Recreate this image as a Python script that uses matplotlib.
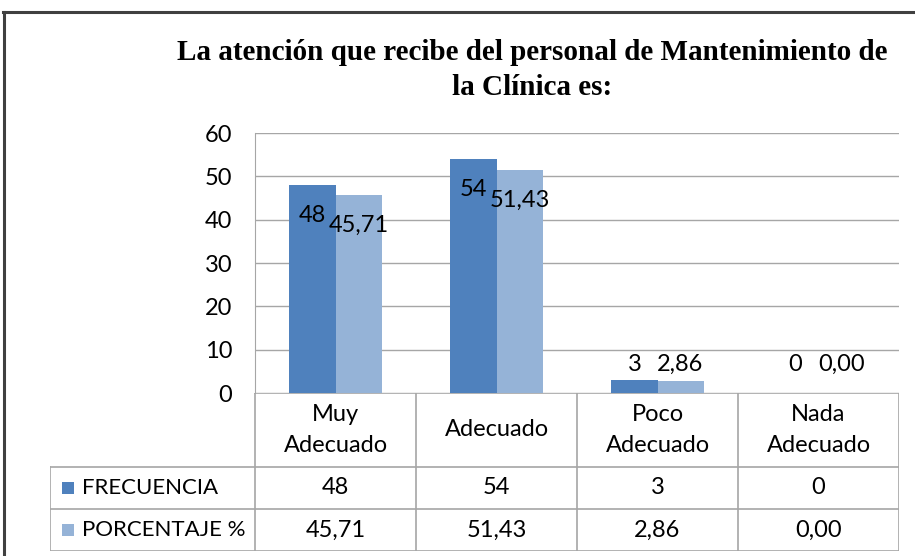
import matplotlib
matplotlib.use("Agg")
import matplotlib.pyplot as plt
from matplotlib.patches import Rectangle
from matplotlib.lines import Line2D
import numpy as np

# survey results
categorias = ["Muy\nAdecuado", "Adecuado", "Poco\nAdecuado", "Nada\nAdecuado"]
frecuencia = [48, 54, 3, 0]
porcentaje = [45.71, 51.43, 2.86, 0.00]
series = ["FRECUENCIA", "PORCENTAJE %"]
colores = ["#4F81BD", "#95B3D7"]
titulo = "La atención que recibe del personal de Mantenimiento de\nla Clínica es:"

W, H = 915, 556
SANS = ["Lato", "DejaVu Sans"]
SERIF = ["Liberation Serif", "DejaVu Serif"]
FS = 17


def fx(px):
    return px / W


def fy(py):
    return 1 - py / H


def fmt(v, dec):
    return f"{v:.{dec}f}".replace(".", ",")


fig = plt.figure(figsize=(W / 100, H / 100), dpi=100)
fig.patch.set_facecolor("white")

# chart frame (only top/left edges fall inside the picture)
fig.add_artist(Line2D([fx(4), fx(4)], [fy(12), fy(H + 10)], color="#404040", lw=2.2))
fig.add_artist(Line2D([fx(3), fx(W + 10)], [fy(12), fy(12)], color="#404040", lw=2.2))

fig.text(fx(532), fy(70), titulo, ha="center", va="center", fontsize=21,
         fontweight="bold", family=SERIF, linespacing=1.37)

# plot area in pixels
L, R, T, B = 255, 899, 133, 393
ax = fig.add_axes([fx(L), fy(B), fx(R - L), (B - T) / H])
n = len(categorias)
x = np.arange(n)
bw = 0.286
ax.bar(x - bw / 2, frecuencia, bw, color=colores[0], zorder=3)
ax.bar(x + bw / 2, porcentaje, bw, color=colores[1], zorder=3)
ax.set_xlim(-0.5, n - 0.5)
ax.set_ylim(0, 60)
ax.set_yticks(range(0, 61, 10))
ax.set_yticklabels([str(t) for t in range(0, 61, 10)], fontsize=FS, family=SANS)
ax.tick_params(axis="y", length=0, pad=16.5)
ax.set_xticks([])
ax.grid(axis="y", color="#A6A6A6", lw=1, zorder=0)
for s in ["top", "right", "bottom"]:
    ax.spines[s].set_visible(False)
ax.spines["left"].set_color("#A6A6A6")

# data labels: inside the top of tall bars, above short ones
for vals, dx, dec in [(frecuencia, -bw / 2, 0), (porcentaje, bw / 2, 2)]:
    for xi, v in zip(x, vals):
        if v > 10:
            ax.annotate(fmt(v, dec), (xi + dx, v), xytext=(0, -22), textcoords="offset points",
                        ha="center", va="center", fontsize=FS, family=SANS, annotation_clip=False)
        else:
            ax.text(xi + dx, 6.5, fmt(v, dec), ha="center", va="center",
                    fontsize=FS, family=SANS)

# data table below the axis
TL, r1, r2, r3 = 50, 467, 509, 551
tab = fig.add_axes([fx(TL), fy(r3), fx(R - TL), (r3 - B) / H])
cw = (R - L) / n
leg_w = (L - TL) / cw
tab.set_xlim(-0.5 - leg_w, n - 0.5)
tab.set_ylim(r3, B)
tab.axis("off")
lc = "#A6A6A6"
tab.plot([-0.5, n - 0.5], [B, B], color=lc, lw=1.2)
for yy in [r1, r2, r3]:
    tab.plot([-0.5 - leg_w, n - 0.5], [yy, yy], color=lc, lw=1.2)
for b in np.arange(-0.5, n, 1.0):
    tab.plot([b, b], [B, r3], color=lc, lw=1.2)
tab.plot([-0.5 - leg_w, -0.5 - leg_w], [r1, r3], color=lc, lw=1.2)

for xi, c in zip(x, categorias):
    tab.text(xi, (B + r1) / 2, c, ha="center", va="center", fontsize=FS,
             family=SANS, linespacing=1.6)

for (y0, y1), name, col, vals, dec in [((r1, r2), series[0], colores[0], frecuencia, 0),
                                        ((r2, r3), series[1], colores[1], porcentaje, 2)]:
    yc = (y0 + y1) / 2
    tab.add_patch(Rectangle((-0.5 - leg_w + 12 / cw, yc - 6), 12 / cw, 12,
                            facecolor=col, edgecolor="none"))
    tab.text(-0.5 - leg_w + 32 / cw, yc, name, ha="left", va="center",
             fontsize=16, family=SANS)
    for xi, v in zip(x, vals):
        tab.text(xi, yc, fmt(v, dec), ha="center", va="center", fontsize=FS, family=SANS)

fig.savefig("out.png", dpi=100)
